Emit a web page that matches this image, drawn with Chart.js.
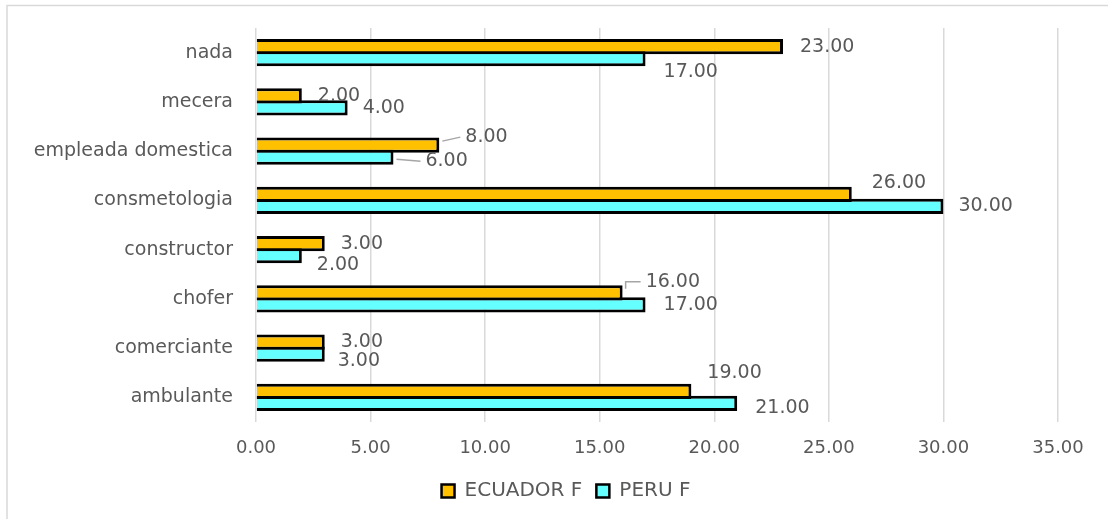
<!DOCTYPE html>
<html>
<head>
<meta charset="utf-8">
<script src="https://cdn.jsdelivr.net/npm/chart.js@4/dist/chart.umd.min.js"></script>
<style>
    html, body { margin: 0; padding: 0; background: #ffffff; }
    #wrap { width: 1108px; height: 519px; }
</style>
</head>
<body>
<div id="wrap"><canvas id="grafico" width="1108" height="519"></canvas></div>
<script>
// Datos
const categorias = ['nada', 'mecera', 'empleada domestica', 'consmetologia', 'constructor', 'chofer', 'comerciante', 'ambulante'];
const ecuadorF = [23, 2, 8, 26, 3, 16, 3, 19];
const peruF = [17, 4, 6, 30, 2, 17, 3, 21];
const ticksX = [0, 5, 10, 15, 20, 25, 30, 35];

// Desplazamiento manual de etiquetas (como en el original), [dx, dy, linea guia]
const ajusteEcuador = [[17, 0], [16, 0], [26, -8, true], [20, -11], [16, 0], [23, -11, true], [16, 0], [16, -18]];
const ajustePeru = [[18, 13], [15, 0], [32, 4, true], [15, 0], [15, 9], [18, 0], [13, 7], [18, 5]];

const FUENTE = "'DejaVu Sans', sans-serif";
const GRIS = '#595959';

// Etiquetas de datos a la derecha de cada barra
const etiquetasPlugin = {
    id: 'etiquetas',
    afterDatasetsDraw(chart) {
        const ctx = chart.ctx;
        const ajustes = [ajusteEcuador, ajustePeru];
        ctx.save();
        ctx.font = '19px ' + FUENTE;
        ctx.fillStyle = GRIS;
        ctx.textAlign = 'left';
        ctx.textBaseline = 'middle';
        chart.data.datasets.forEach((ds, i) => {
            const meta = chart.getDatasetMeta(i);
            meta.data.forEach((barra, j) => {
                const [dx, dy, guia] = ajustes[i][j];
                const x = barra.x + dx;
                const y = barra.y + dy;
                if (guia) {
                    ctx.strokeStyle = '#a6a6a6';
                    ctx.lineWidth = 1.5;
                    ctx.beginPath();
                    ctx.moveTo(barra.x + 3, barra.y + (dy < 0 ? -4 : 2));
                    if (dy < -9) {
                        ctx.lineTo(barra.x + 3, y);
                    }
                    ctx.lineTo(x - 5, y);
                    ctx.stroke();
                }
                ctx.fillText(Number(ds.data[j]).toFixed(2), x, y);
            });
        });
        ctx.restore();
    }
};

// Borde claro del recuadro (solo arriba e izquierda se ven en el original)
const bordePlugin = {
    id: 'borde',
    afterLayout(chart) {
        // la leyenda del original esta algo corrida a la derecha
        chart.legend.left = 42;
        chart.legend.right = 1090;
    },
    afterDraw(chart) {
        const ctx = chart.ctx;
        ctx.save();
        ctx.strokeStyle = '#d9d9d9';
        ctx.lineWidth = 1.5;
        ctx.beginPath();
        ctx.moveTo(7, 519);
        ctx.lineTo(7, 5.5);
        ctx.lineTo(1108, 5.5);
        ctx.stroke();
        ctx.restore();
    }
};

const ctx = document.getElementById('grafico').getContext('2d');

new Chart(ctx, {
    type: 'bar',
    data: {
        labels: categorias,
        datasets: [{
            label: 'ECUADOR F',
            data: ecuadorF,
            backgroundColor: '#FFC000',
            borderColor: '#000000',
            borderWidth: 3
        }, {
            label: 'PERU F',
            data: peruF,
            backgroundColor: '#66FFFF',
            borderColor: '#000000',
            borderWidth: 3
        }]
    },
    options: {
        indexAxis: 'y',
        responsive: false,
        animation: false,
        devicePixelRatio: 1,
        categoryPercentage: 0.488,
        barPercentage: 1.25,
        layout: {
            padding: { top: 28, right: 50, bottom: 8, left: 10 }
        },
        scales: {
            x: {
                min: 0,
                max: 35,
                afterBuildTicks(scale) {
                    scale.ticks = ticksX.map(v => ({ value: v }));
                },
                afterFit(scale) { scale.height = 45; },
                grid: { color: '#d9d9d9', lineWidth: 1.5, drawTicks: false },
                border: { display: false },
                ticks: {
                    padding: 16,
                    color: GRIS,
                    font: { family: FUENTE, size: 18 },
                    callback: v => Number(v).toFixed(2)
                }
            },
            y: {
                afterFit(scale) {
                    scale.width = 246;
                    scale.paddingTop = 0;
                    scale.paddingBottom = 0;
                },
                grid: { display: false, drawTicks: false },
                border: { display: false },
                ticks: {
                    padding: 23,
                    color: GRIS,
                    font: { family: FUENTE, size: 19 }
                }
            }
        },
        plugins: {
            legend: {
                position: 'bottom',
                labels: {
                    boxWidth: 13,
                    boxHeight: 13,
                    padding: 14,
                    color: GRIS,
                    font: { family: FUENTE, size: 20 },
                    generateLabels(chart) {
                        return chart.data.datasets.map((ds, i) => ({
                            text: ds.label,
                            fillStyle: ds.backgroundColor,
                            strokeStyle: '#000000',
                            lineWidth: 2.5,
                            fontColor: GRIS,
                            datasetIndex: i
                        }));
                    }
                }
            },
            tooltip: { enabled: false }
        }
    },
    plugins: [etiquetasPlugin, bordePlugin]
});
</script>
</body>
</html>
